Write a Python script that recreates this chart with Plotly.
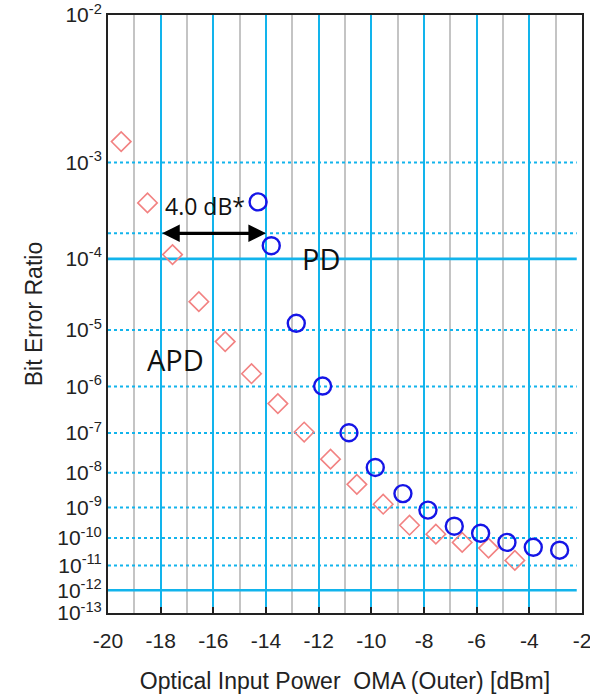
import math
import plotly.graph_objects as go

# ---------------- data ----------------
apd_x = [-19.5, -18.5, -17.55, -16.55, -15.55, -14.55, -13.55, -12.55, -11.55,
         -10.55, -9.55, -8.55, -7.55, -6.55, -5.55, -4.55]
apd_ber = [1.5e-3, 4.2e-4, 1.13e-4, 2.7e-5, 6.5e-6, 1.76e-6, 4.5e-7, 1.06e-7,
           2.3e-8, 4.8e-9, 1.25e-9, 2.7e-10, 1.35e-10, 7.0e-11, 4.4e-11, 1.55e-11]

pd_x = [-14.3, -13.8, -12.85, -11.85, -10.85, -9.85, -8.8, -7.85, -6.85,
        -5.85, -4.85, -3.85, -2.85]
pd_ber = [4.3e-4, 1.44e-4, 1.28e-5, 1.02e-6, 1.02e-7, 1.39e-8, 2.6e-9, 8.2e-10,
          2.5e-10, 1.45e-10, 7.0e-11, 4.7e-11, 3.7e-11]

y_tick_exp = [-2, -3, -4, -5, -6, -7, -8, -9, -10, -11, -12, -13]
x_ticks = [-20, -18, -16, -14, -12, -10, -8, -6, -4, -2]
x_minor = [-19, -17, -15, -13, -11, -9, -7, -5, -3]
grid_ber_dotted = [1e-3, 2e-4, 1e-5, 1e-6, 1e-7, 1e-8, 1e-9, 1e-10, 1e-11]
grid_ber_solid = [1e-4, 1e-12]
arrow_x = [-18, -14]
arrow_ber = 2e-4


# ---------------- BER scale: log10(Q) ----------------
def q_of(ber):
    lo, hi = 0.0, 40.0
    for _ in range(200):
        mid = 0.5 * (lo + hi)
        if 0.5 * math.erfc(mid / math.sqrt(2)) > ber:
            lo = mid
        else:
            hi = mid
    return 0.5 * (lo + hi)


def yv(ber):
    return math.log10(q_of(ber))


BLUE = "#12b4ec"
fig = go.Figure()

fig.add_trace(go.Scatter(
    x=apd_x, y=[yv(b) for b in apd_ber], mode="markers", name="APD",
    marker=dict(symbol="diamond-open", size=15, color="#f28282",
                line=dict(width=1.6, color="#f28282")),
    showlegend=False, cliponaxis=False))
fig.add_trace(go.Scatter(
    x=pd_x, y=[yv(b) for b in pd_ber], mode="markers", name="PD",
    marker=dict(symbol="circle-open", size=17, color="#1515e6",
                line=dict(width=2.4, color="#1515e6")),
    showlegend=False, cliponaxis=False))

shapes = []
for b in grid_ber_dotted:
    shapes.append(dict(type="line", xref="x", yref="y", x0=-20, x1=-2.2,
                       y0=yv(b), y1=yv(b), layer="between",
                       line=dict(color=BLUE, width=2, dash="dot")))
for b in grid_ber_solid:
    shapes.append(dict(type="line", xref="x", yref="y", x0=-20, x1=-2.2,
                       y0=yv(b), y1=yv(b), layer="between",
                       line=dict(color=BLUE, width=2.6)))

ytop, ybot = yv(10.0 ** y_tick_exp[0]), yv(10.0 ** y_tick_exp[-1])

fig.update_layout(
    width=590, height=698,
    margin=dict(l=108, r=8, t=15, b=85),
    paper_bgcolor="white", plot_bgcolor="white",
    font=dict(family="Liberation Sans, Arial, sans-serif", color="#222"),
    shapes=shapes,
    xaxis=dict(
        range=[-20, -2], tickvals=x_ticks, ticktext=[str(v) for v in x_ticks],
        showgrid=True, gridcolor=BLUE, gridwidth=2,
        minor=dict(tickvals=x_minor, showgrid=True, gridcolor="#c4c4c4",
                   gridwidth=2, ticklen=0),
        ticks="inside", ticklen=6, tickwidth=2, tickcolor="#222",
        ticklabelstandoff=8, automargin=False, ticklabeloverflow="allow",
        showline=True, linecolor="#222", linewidth=2, mirror=True,
        zeroline=False, tickfont=dict(size=21, color="#222"),
        title=dict(text="Optical Input Power  OMA (Outer) [dBm]",
                   font=dict(size=23, color="#222"), standoff=22),
    ),
    yaxis=dict(
        range=[ybot, ytop],
        tickvals=[yv(10.0 ** e) for e in y_tick_exp],
        ticktext=["10<sup>%d</sup>" % e for e in y_tick_exp],
        showgrid=False, ticks="", zeroline=False, automargin=False,
        ticklabeloverflow="allow",
        showline=True, linecolor="#222", linewidth=2, mirror=True,
        tickfont=dict(size=21, color="#222"),
        title=dict(text="Bit Error Ratio", font=dict(size=23, color="#222"),
                   standoff=8),
    ),
    annotations=[
        dict(x=arrow_x[1], y=yv(arrow_ber), ax=arrow_x[0], ay=yv(arrow_ber),
             xref="x", yref="y", axref="x", ayref="y", text="",
             showarrow=True, arrowhead=2, startarrowhead=2, arrowside="end+start",
             arrowwidth=3.2, arrowsize=1.1, startarrowsize=1.1, arrowcolor="black"),
        dict(x=-16.3, y=yv(3.9e-4), xref="x", yref="y", text="4.0 dB*",
             showarrow=False, font=dict(family="Open Sans", size=23, color="#111")),
        dict(x=-11.9, y=yv(1e-4), xref="x", yref="y", text="PD",
             showarrow=False, font=dict(family="Open Sans", size=29, color="#111")),
        dict(x=-17.45, y=yv(3.2e-6), xref="x", yref="y", text="APD",
             showarrow=False, font=dict(family="Open Sans", size=29, color="#111")),
    ],
)

fig.write_html("out.html")
